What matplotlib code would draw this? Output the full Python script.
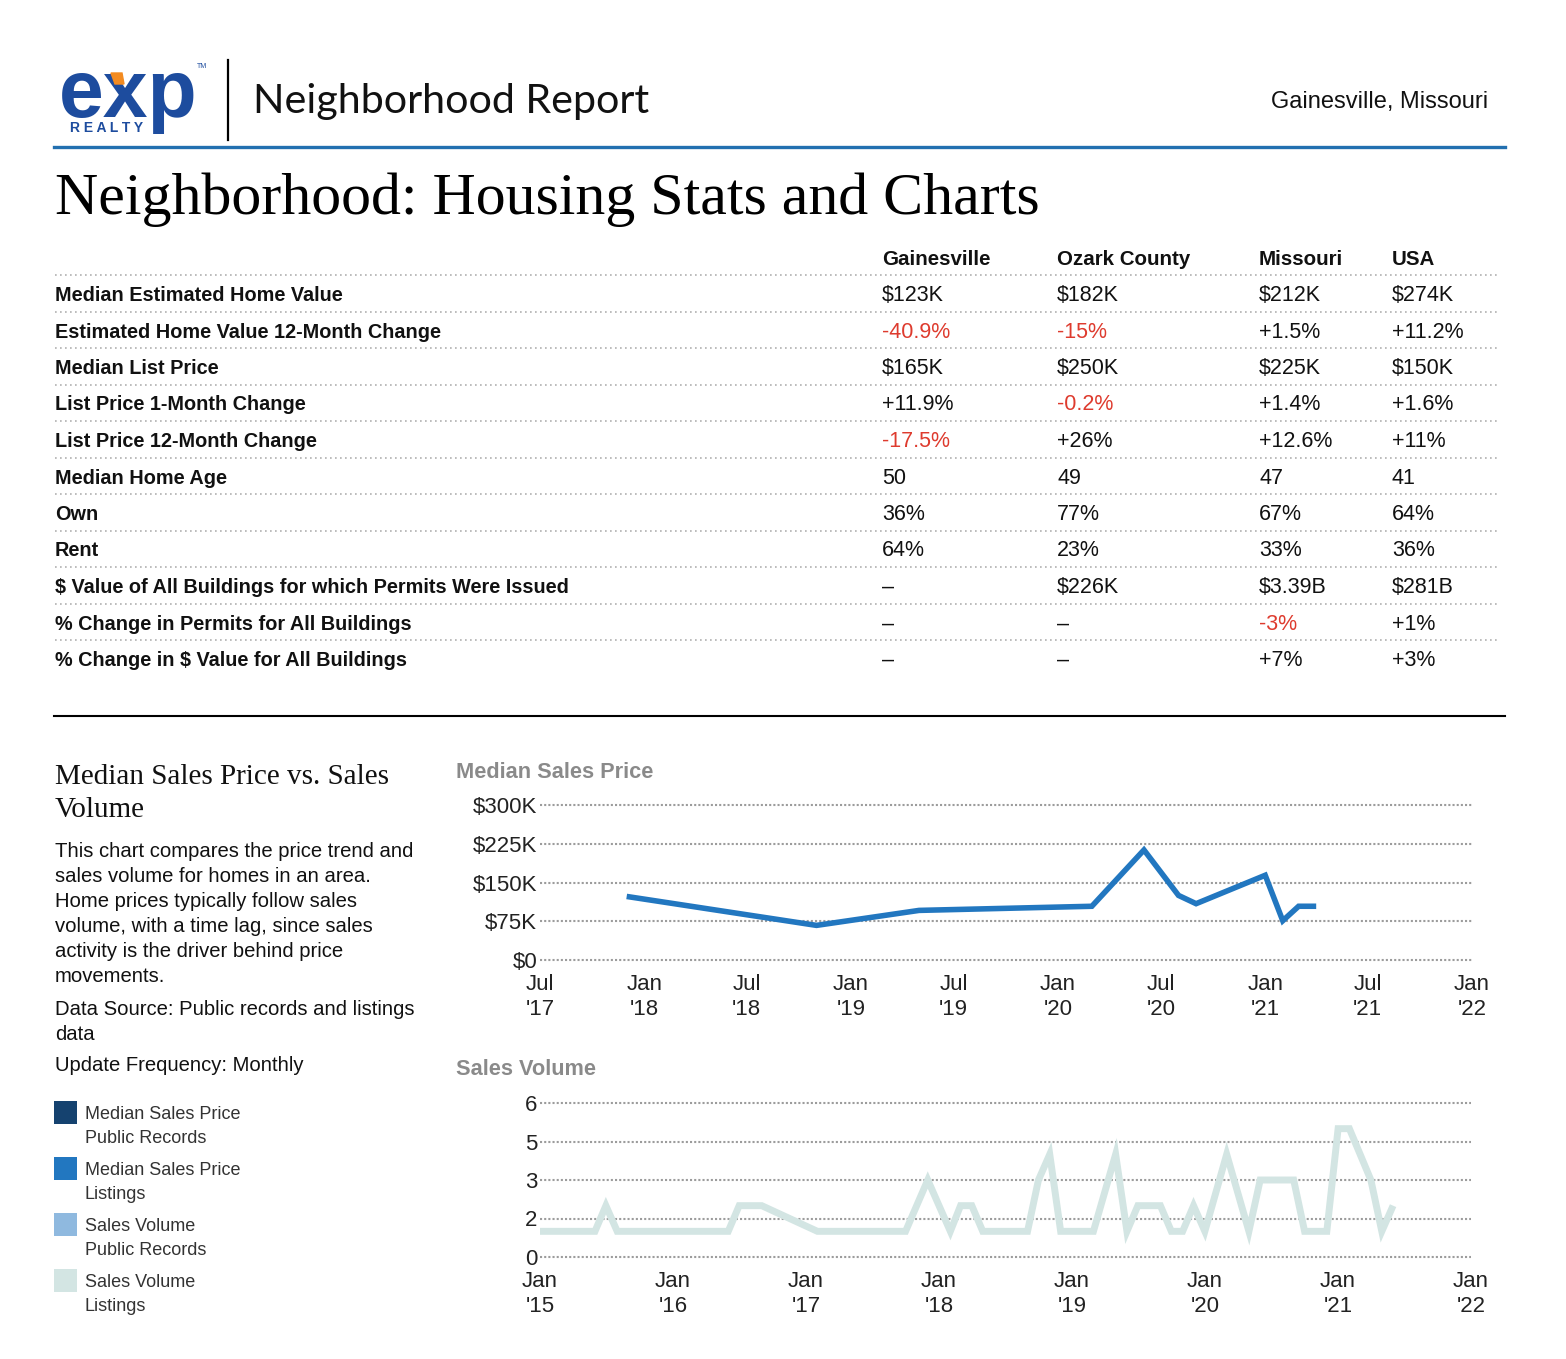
import numpy as np
import matplotlib
matplotlib.use("Agg")
import matplotlib.pyplot as plt
from matplotlib.lines import Line2D
from matplotlib.patches import Polygon, Rectangle

# ---------------- data ----------------
columns = ["Gainesville", "Ozark County", "Missouri", "USA"]
row_labels = [
    "Median Estimated Home Value",
    "Estimated Home Value 12-Month Change",
    "Median List Price",
    "List Price 1-Month Change",
    "List Price 12-Month Change",
    "Median Home Age",
    "Own",
    "Rent",
    "$ Value of All Buildings for which Permits Were Issued",
    "% Change in Permits for All Buildings",
    "% Change in $ Value for All Buildings",
]
gainesville = ["$123K", "-40.9%", "$165K", "+11.9%", "-17.5%", "50", "36%", "64%", "\u2013", "\u2013", "\u2013"]
ozark = ["$182K", "-15%", "$250K", "-0.2%", "+26%", "49", "77%", "23%", "$226K", "\u2013", "\u2013"]
missouri = ["$212K", "+1.5%", "$225K", "+1.4%", "+12.6%", "47", "67%", "33%", "$3.39B", "-3%", "+7%"]
usa = ["$274K", "+11.2%", "$150K", "+1.6%", "+11%", "41", "64%", "36%", "$281B", "+1%", "+3%"]

price_dates = ["2017-12", "2018-11", "2019-05", "2020-03", "2020-06", "2020-08",
               "2020-09", "2021-01", "2021-02", "2021-03", "2021-04"]
price_values = [123000, 67000, 96000, 104000, 213000, 125000,
                109000, 164000, 76000, 104000, 104000]
price_yticks = [0, 75000, 150000, 225000, 300000]
price_yticklabels = ["$0", "$75K", "$150K", "$225K", "$300K"]
price_xticks = ["2017-07", "2018-01", "2018-07", "2019-01", "2019-07",
                "2020-01", "2020-07", "2021-01", "2021-07", "2022-01"]
price_xticklabels = ["Jul\n'17", "Jan\n'18", "Jul\n'18", "Jan\n'19", "Jul\n'19",
                     "Jan\n'20", "Jul\n'20", "Jan\n'21", "Jul\n'21", "Jan\n'22"]

vol_dates = ["2015-01", "2015-06", "2015-07", "2015-08", "2016-06", "2016-07", "2016-09",
             "2017-02", "2017-10", "2017-12", "2018-02", "2018-03", "2018-04", "2018-05",
             "2018-09", "2018-10", "2018-11", "2018-12", "2019-03", "2019-05", "2019-06",
             "2019-07", "2019-09", "2019-10", "2019-11", "2019-12", "2020-01", "2020-03",
             "2020-05", "2020-06", "2020-09", "2020-10", "2020-12", "2021-01", "2021-02",
             "2021-04", "2021-05", "2021-06"]
vol_values = [1, 1, 2, 1, 1, 2, 2,
              1, 1, 3, 1, 2, 2, 1,
              1, 3, 4, 1, 1, 4, 1,
              2, 2, 1, 1, 2, 1, 4,
              1, 3, 3, 1, 1, 5, 5,
              3, 1, 2]
vol_yticks = [0, 1.5, 3, 4.5, 6]
vol_yticklabels = ["0", "2", "3", "5", "6"]
vol_xticks = ["2015-01", "2016-01", "2017-01", "2018-01", "2019-01",
              "2020-01", "2021-01", "2022-01"]
vol_xticklabels = ["Jan\n'15", "Jan\n'16", "Jan\n'17", "Jan\n'18", "Jan\n'19",
                   "Jan\n'20", "Jan\n'21", "Jan\n'22"]

legend_labels = ["Median Sales Price\nPublic Records", "Median Sales Price\nListings",
                 "Sales Volume\nPublic Records", "Sales Volume\nListings"]
legend_colors = ["#15426f", "#2277c0", "#8fb9df", "#d3e5e3"]

# ---------------- layout helpers ----------------
W, H = 1566, 1359
fig = plt.figure(figsize=(W / 100, H / 100), dpi=100)
fig.patch.set_facecolor("white")

SANS = ["Liberation Sans", "DejaVu Sans"]
SERIF = ["Liberation Serif", "DejaVu Serif"]


def fx(x):
    return x / W


def fy(y):
    return 1 - y / H


def txt(x, y, s, **kw):
    kw.setdefault("va", "baseline")
    return fig.text(fx(x), fy(y), s, **kw)


def hline(x0, x1, y, **kw):
    fig.add_artist(Line2D([fx(x0), fx(x1)], [fy(y), fy(y)], transform=fig.transFigure, **kw))


# ---------------- header ----------------
BLUE_LOGO = "#1d4c9e"
txt(59, 117, "exp", fontsize=58, fontweight="bold", family=SANS, color=BLUE_LOGO)
fig.add_artist(Polygon([(fx(111), fy(73)), (fx(122), fy(73)), (fx(124), fy(84)), (fx(115), fy(84))],
                       closed=True, transform=fig.transFigure, color="#f38b20", zorder=5))
txt(70, 132, "R E A L T Y", fontsize=10, fontweight="bold", family=SANS, color=BLUE_LOGO)
txt(197, 68, "TM", fontsize=5, family=SANS, color=BLUE_LOGO)
fig.add_artist(Line2D([fx(228), fx(228)], [fy(60), fy(140)], transform=fig.transFigure, color="black", lw=1.6))
txt(253, 113, "Neighborhood Report", fontsize=29.7, family=["Lato", "Open Sans"], color="#111111")
txt(1488, 108, "Gainesville, Missouri", fontsize=17, family=SANS, color="#111111", ha="right")
hline(54, 1505, 147, color="#2270b0", lw=2.4)

txt(55, 214, "Neighborhood: Housing Stats and Charts", fontsize=43.1, family=SERIF, color="black")

# ---------------- table ----------------
col_x = [882, 1057, 1259, 1392]
for cx, name in zip(col_x, columns):
    txt(cx, 265, name, fontsize=14.8, fontweight="bold", family=SANS, color="#111111")

row_y0 = 301
row_step = 36.5
table_cols = [gainesville, ozark, missouri, usa]
for i, label in enumerate(row_labels):
    yb = row_y0 + i * row_step
    hline(55, 1500, yb - 26, color="#b0b0b0", lw=1.2, ls=(0, (1, 2)))
    txt(55, yb, label, fontsize=14.3, fontweight="bold", family=SANS, color="#111111")
    for cx, col in zip(col_x, table_cols):
        v = col[i]
        color = "#de3b2e" if v.startswith("-") else "#111111"
        txt(cx, yb, v, fontsize=15.5, family=SANS, color=color)

hline(54, 1505, 716, color="black", lw=1.5)

# ---------------- left text ----------------
txt(55, 784, "Median Sales Price vs. Sales", fontsize=21, family=SERIF, color="#111111")
txt(55, 817, "Volume", fontsize=21, family=SERIF, color="#111111")
para = ["This chart compares the price trend and",
        "sales volume for homes in an area.",
        "Home prices typically follow sales",
        "volume, with a time lag, since sales",
        "activity is the driver behind price",
        "movements."]
PFS = 14.6
for i, line in enumerate(para):
    txt(55, 857 + i * 25, line, fontsize=PFS, family=SANS, color="#111111")
txt(55, 1015, "Data Source: Public records and listings", fontsize=PFS, family=SANS, color="#111111")
txt(55, 1040, "data", fontsize=PFS, family=SANS, color="#111111")
txt(55, 1071, "Update Frequency: Monthly", fontsize=PFS, family=SANS, color="#111111")

for i, (lab, col) in enumerate(zip(legend_labels, legend_colors)):
    top = 1101 + i * 56
    fig.add_artist(Rectangle((fx(54), fy(top + 23)), 23 / W, 23 / H, transform=fig.transFigure,
                             color=col, lw=0))
    l1, l2 = lab.split("\n")
    txt(85, top + 18, l1, fontsize=13, family=SANS, color="#333333")
    txt(85, top + 42, l2, fontsize=13, family=SANS, color="#333333")


# ---------------- charts ----------------
def make_chart(left, right, top, bottom, dates, values, xticks, xlabels, yticks, ylabels,
               color, lw, title, title_y):
    ax = fig.add_axes([fx(left), fy(bottom), (right - left) / W, (bottom - top) / H])
    ax.set_facecolor("none")
    d = np.array(dates, dtype="datetime64[D]")
    xt = np.array(xticks, dtype="datetime64[D]")
    ax.set_xlim(xt[0], xt[-1])
    ax.set_ylim(yticks[0], yticks[-1])
    for v in yticks:
        ax.axhline(v, color="#9c9c9c", lw=1.5, ls=(0, (1, 1)), clip_on=False, zorder=0)
    ax.plot(d, values, color=color, lw=lw, solid_joinstyle="miter", solid_capstyle="butt",
            clip_on=False, zorder=3)
    ax.set_xticks(xt)
    ax.set_xticklabels(xlabels, fontsize=16, family=SANS, color="#222222", linespacing=1.25)
    ax.set_yticks(yticks)
    ax.set_yticklabels(ylabels, fontsize=16, family=SANS, color="#222222")
    ax.tick_params(axis="both", length=0)
    ax.tick_params(axis="x", pad=10)
    ax.tick_params(axis="y", pad=2)
    for s in ax.spines.values():
        s.set_visible(False)
    txt(456, title_y, title, fontsize=15.7, fontweight="bold", family=SANS, color="#8a8a8a")
    return ax


make_chart(540, 1472, 805, 960, price_dates, price_values, price_xticks, price_xticklabels,
           price_yticks, price_yticklabels, "#2277c0", 4.0, "Median Sales Price", 778)
make_chart(540, 1471, 1103, 1257, vol_dates, vol_values, vol_xticks, vol_xticklabels,
           vol_yticks, vol_yticklabels, "#d3e5e3", 5.0, "Sales Volume", 1075)

fig.savefig("out.png", dpi=100)
